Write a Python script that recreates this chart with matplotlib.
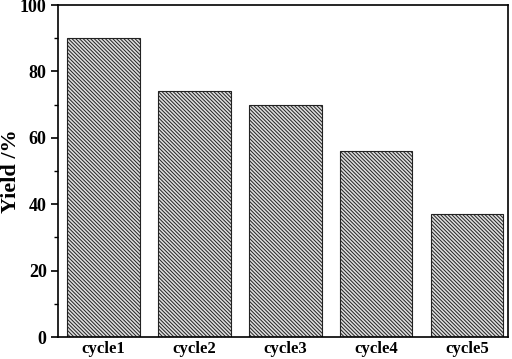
import matplotlib
matplotlib.use("Agg")
import matplotlib.pyplot as plt
from matplotlib.ticker import MultipleLocator

cycles = ["cycle1", "cycle2", "cycle3", "cycle4", "cycle5"]
yields = [90, 74, 70, 56, 37]

plt.rcParams["font.family"] = "Liberation Serif"
plt.rcParams["font.weight"] = "bold"
plt.rcParams["hatch.linewidth"] = 0.7
plt.rcParams["hatch.color"] = "#555555"

fig = plt.figure(figsize=(5.12, 3.59), dpi=100)
ax = fig.add_axes([0.113, 0.061, 0.879, 0.925])

ax.bar(range(len(cycles)), yields, width=0.8, color="#dddddd",
       edgecolor="#222222", linewidth=0.8, hatch="\\" * 9)

ax.set_xlim(-0.5, 4.45)
ax.set_ylim(0, 100)
ax.set_xticks(range(len(cycles)))
ax.set_xticklabels(cycles, fontsize=12, fontweight="bold")
ax.tick_params(axis="x", length=0, pad=3)
ax.yaxis.set_major_locator(MultipleLocator(20))
ax.yaxis.set_minor_locator(MultipleLocator(10))
ax.tick_params(axis="y", which="major", length=5, width=1.2, labelsize=13, pad=3)
ax.tick_params(axis="y", which="minor", length=3, width=1.0)
for lbl in ax.get_yticklabels():
    lbl.set_fontweight("bold")
ax.set_ylabel("Yield /%", fontsize=16, fontweight="bold")
ax.yaxis.set_label_coords(-0.082, 0.5)
for s in ax.spines.values():
    s.set_linewidth(1.2)

fig.savefig("out.png", dpi=100)
